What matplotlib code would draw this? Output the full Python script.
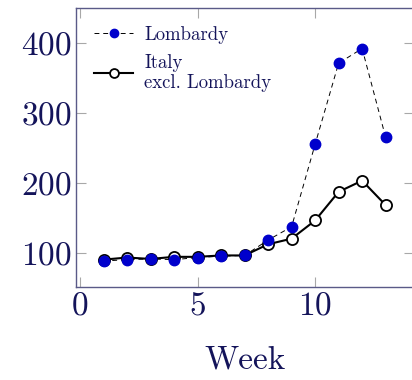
import matplotlib
matplotlib.use('Agg')
import matplotlib.pyplot as plt

# Weekly values
weeks = [1, 2, 3, 4, 5, 6, 7, 8, 9, 10, 11, 12, 13]
lombardy = [88, 90, 91, 90, 93, 95, 96, 118, 137, 255, 371, 392, 265]
italy_excl = [90, 93, 91, 94, 94, 96, 96, 112, 120, 146, 187, 203, 168]

text_color = '#14145a'
spine_color = '#5a5a88'

plt.rcParams['font.family'] = 'serif'
plt.rcParams['font.serif'] = ['cmr10']
plt.rcParams['mathtext.fontset'] = 'cm'
plt.rcParams['axes.formatter.use_mathtext'] = True

fig = plt.figure(figsize=(4.12, 3.8), dpi=100)
ax = fig.add_axes([0.1845, 0.245, 0.82, 0.734])

# Italy drawn first so the Lombardy dots sit on top
l2, = ax.plot(weeks, italy_excl, color='black', linewidth=1.5, marker='o',
              markersize=8, markerfacecolor='white', markeredgecolor='black',
              markeredgewidth=1.3, zorder=2, label='Italy\nexcl. Lombardy')
l1, = ax.plot(weeks, lombardy, color='black', linewidth=0.7, linestyle=(0, (5, 4)),
              marker='o', markersize=7.5, markerfacecolor='#0000cc',
              markeredgecolor='#0000cc', zorder=3, label='Lombardy')

ax.set_xlim(-0.17, 14.2)
ax.set_ylim(51, 450)
ax.set_xticks([0, 5, 10])
ax.set_yticks([100, 200, 300, 400])
ax.set_xlabel('Week', fontsize=24, color=text_color, labelpad=18)

ax.tick_params(direction='in', length=7, width=0.8, color='#a8a8a8',
               top=True, right=True, labelsize=24, labelcolor=text_color)
for s in ax.spines.values():
    s.set_color(spine_color)
    s.set_linewidth(1.0)

leg = ax.legend(handles=[l1, l2], loc='upper left', frameon=False,
                fontsize=13.5, handlelength=2.1, handletextpad=0.6,
                borderpad=0.3, borderaxespad=0.65, labelspacing=0.55,
                markerscale=0.8)
for t in leg.get_texts():
    t.set_color(text_color)
    t.set_linespacing(1.1)

fig.savefig('out.png', dpi=100)
